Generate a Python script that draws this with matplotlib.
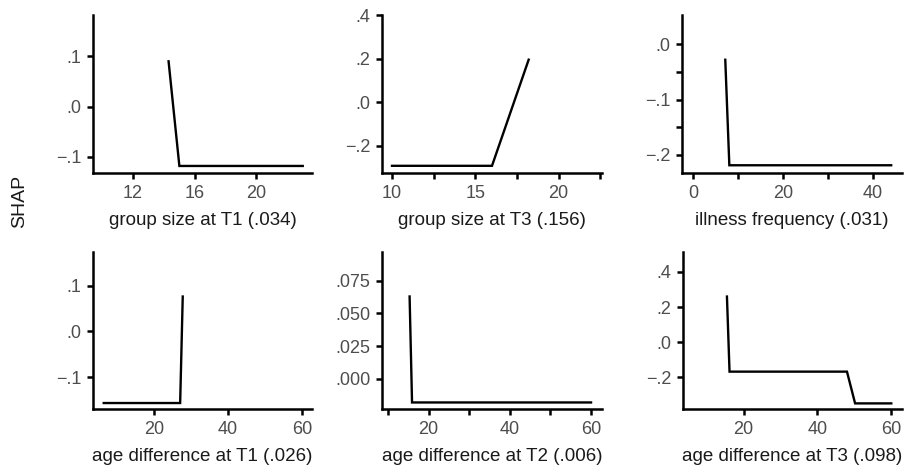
import numpy as np
import matplotlib.pyplot as plt

plt.rcParams['font.family'] = ['Liberation Sans', 'DejaVu Sans']

# curve values
gs_t1_x = [14.3, 15.0, 23.0]
gs_t1_y = [0.090, -0.118, -0.118]
gs_t3_x = [10.0, 16.0, 18.2]
gs_t3_y = [-0.292, -0.292, 0.195]
ill_x = [7.2, 8.1, 44.0]
ill_y = [-0.028, -0.219, -0.219]
ad_t1_x = [6.3, 27.0, 27.7]
ad_t1_y = [-0.156, -0.156, 0.076]
ad_t2_x = [15.3, 15.9, 60.0]
ad_t2_y = [0.063, -0.018, -0.018]
ad_t3_x = [15.5, 16.2, 48.0, 50.2, 60.0]
ad_t3_y = [0.26, -0.168, -0.168, -0.349, -0.349]

titles = ['group size at T1 (.034)', 'group size at T3 (.156)',
          'illness frequency (.031)', 'age difference at T1 (.026)',
          'age difference at T2 (.006)', 'age difference at T3 (.098)']

x_major = [[12, 16, 20], [10, 15, 20], [0, 20, 40],
           [20, 40, 60], [20, 40, 60], [20, 40, 60]]
x_minor = [[], [12.5, 17.5, 22.5], [10, 30], [], [10, 30, 50], []]
y_major = [[-0.1, 0.0, 0.1], [-0.2, 0.0, 0.2, 0.4], [-0.2, -0.1, 0.0],
           [-0.1, 0.0, 0.1], [0.0, 0.025, 0.05, 0.075], [-0.2, 0.0, 0.2, 0.4]]
y_major_lab = [['\u2212.1', '.0', '.1'], ['\u2212.2', '.0', '.2', '.4'],
               ['\u2212.2', '\u2212.1', '.0'], ['\u2212.1', '.0', '.1'],
               ['.000', '.025', '.050', '.075'], ['\u2212.2', '.0', '.2', '.4']]
y_minor = [[], [], [-0.15, -0.05], [], [], []]
xlims = [(9.4, 23.6), (9.4, 22.6), (-2.4, 46.4), (3.4, 62.7), (8.5, 62.7), (3.6, 62.9)]
ylims = [(-0.132, 0.182), (-0.325, 0.4), (-0.233, 0.053),
         (-0.169, 0.173), (-0.023, 0.097), (-0.381, 0.514)]

series = [(gs_t1_x, gs_t1_y), (gs_t3_x, gs_t3_y), (ill_x, ill_y),
          (ad_t1_x, ad_t1_y), (ad_t2_x, ad_t2_y), (ad_t3_x, ad_t3_y)]

W, H = 905, 468
boxes = [(93, 15, 312, 173), (382, 15, 602, 173), (682, 15, 902, 173),
         (93, 252, 312, 409), (382, 252, 602, 409), (683, 252, 902, 409)]

fig = plt.figure(figsize=(W / 100, H / 100), dpi=100)

for i, (l, t, r, b) in enumerate(boxes):
    ax = fig.add_axes([l / W, 1 - b / H, (r - l) / W, (b - t) / H])
    x, y = series[i]
    ax.plot(x, y, color='black', lw=1.7, solid_joinstyle='miter')
    ax.set_xlim(*xlims[i])
    ax.set_ylim(*ylims[i])
    ax.set_xticks(x_major[i])
    ax.set_xticks(x_minor[i], minor=True)
    ax.set_yticks(y_major[i])
    ax.set_yticklabels(y_major_lab[i])
    ax.set_yticks(y_minor[i], minor=True)
    for s in ['top', 'right']:
        ax.spines[s].set_visible(False)
    for s in ['left', 'bottom']:
        ax.spines[s].set_linewidth(1.8)
    ax.tick_params(which='both', direction='out', length=4.5, width=1.8,
                   labelsize=13, labelcolor='#4d4d4d', pad=4)
    ax.set_xlabel(titles[i], fontsize=13.5, color='#1a1a1a', labelpad=7)

fig.text(20 / W, 1 - 201 / H, 'SHAP', rotation=90, ha='center', va='center',
         fontsize=14, color='#1a1a1a')

fig.savefig('out.png', dpi=100)
